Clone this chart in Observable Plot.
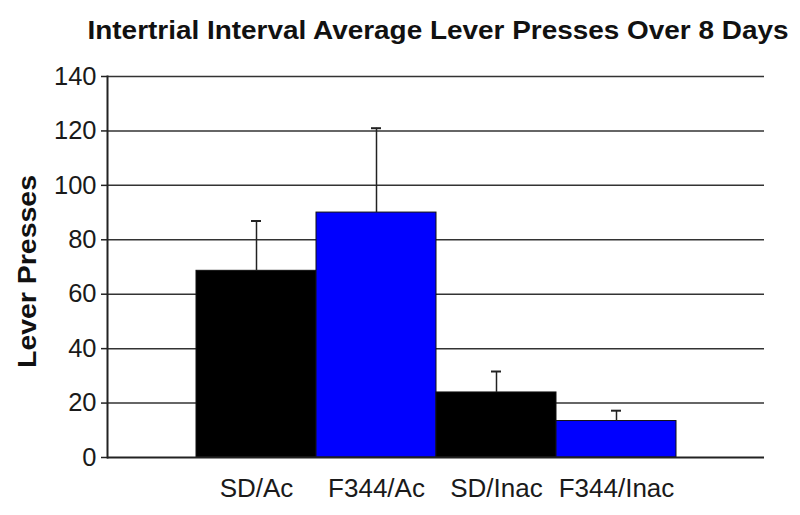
<!DOCTYPE html>
<html>
<head>
<meta charset="utf-8">
<script src="https://cdn.jsdelivr.net/npm/d3@7"></script>
<script src="https://cdn.jsdelivr.net/npm/@observablehq/plot@0.6"></script>
<style>
  html, body { margin: 0; padding: 0; background: white; }
</style>
</head>
<body>
<div id="chart"></div>
<script>
const title = "Intertrial Interval Average Lever Presses Over 8 Days";
const yLabel = "Lever Presses";
const categories = ["SD/Ac", "F344/Ac", "SD/Inac", "F344/Inac"];
const means = [68.6, 90.0, 23.9, 13.4];
const upperErrors = [86.9, 121.0, 31.6, 17.2];
const barColors = ["#000000", "#0000ff", "#000000", "#0000ff"];
const yTicks = [0, 20, 40, 60, 80, 100, 120, 140];

const data = categories.map((c, i) => ({
  cat: c, mean: means[i], err: upperErrors[i], color: barColors[i]
}));

const chart = Plot.plot({
  width: 800,
  height: 515,
  marginTop: 76,
  marginBottom: 58,
  marginLeft: 107,
  marginRight: 36,
  style: {fontFamily: "'Liberation Sans', Arial, Helvetica, sans-serif", fontSize: "26px", color: "#1a1a1a", background: "white"},
  x: {domain: categories, paddingInner: 0, paddingOuter: 0.7375, label: null},
  y: {domain: [0, 140], label: null},
  color: {type: "identity"},
  marks: [
    Plot.ruleY(yTicks.filter(t => t > 0), {stroke: "#333", strokeWidth: 1.5}),
    Plot.barY(data, {x: "cat", y: "mean", fill: "color", stroke: "#111", strokeWidth: 1}),
    Plot.ruleX(data, {x: "cat", y1: "mean", y2: "err", stroke: "#222", strokeWidth: 1.5}),
    Plot.tickY(data, {x: "cat", y: "err", stroke: "#222", strokeWidth: 2, insetLeft: 55, insetRight: 55}),
    Plot.ruleY([0], {stroke: "#222", strokeWidth: 2}),
    Plot.frame({anchor: "left", stroke: "#222", strokeWidth: 2}),
    Plot.axisY({ticks: yTicks, tickSize: 6, tickPadding: 5, fontSize: 25.5, stroke: "#222", strokeWidth: 1.5, label: null}),
    Plot.axisX({tickSize: 0, tickPadding: 21, fontSize: 26, label: null}),
    Plot.text([yLabel], {frameAnchor: "left", rotate: -90, textAnchor: "middle", lineAnchor: "middle", dx: -80, dy: 4.5, fontWeight: "bold", fontSize: 25, fill: "#111"}),
    Plot.text([title], {frameAnchor: "top", textAnchor: "middle", lineAnchor: "middle", dx: 2, dy: -46, fontWeight: "bold", fontSize: 26, fill: "#111"})
  ]
});
// Fit the title and axis label to the lengths measured in the reference
d3.select(chart).selectAll("text").each(function() {
  const t = this.textContent;
  if (t === title) { this.setAttribute("textLength", 701); this.setAttribute("lengthAdjust", "spacingAndGlyphs"); }
  if (t === yLabel) { this.setAttribute("textLength", 193); this.setAttribute("lengthAdjust", "spacingAndGlyphs"); }
});
document.getElementById("chart").appendChild(chart);
</script>
</body>
</html>
